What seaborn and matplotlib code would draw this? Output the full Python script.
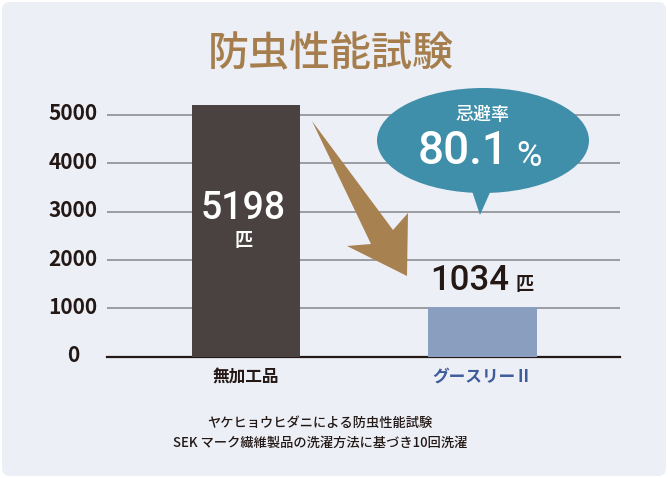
import matplotlib
matplotlib.use("Agg")
import matplotlib.pyplot as plt
import matplotlib.transforms as mtransforms
from matplotlib.patches import FancyBboxPatch, Ellipse, Polygon
import pandas as pd
import seaborn as sns

# データ
categories = ["無加工品", "グースリーⅡ"]
counts = [5198, 1034]
unit = "匹"
yticks = [0, 1000, 2000, 3000, 4000, 5000]
title = "防虫性能試験"
rate_label = "忌避率"
rate_value = "80.1"
notes = ["ヤケヒョウヒダニによる防虫性能試験",
         "SEK マーク繊維製品の洗濯方法に基づき10回洗濯"]

sns.set_theme(style="white")
plt.rcParams['font.family'] = ['Noto Sans CJK JP', 'DejaVu Sans']
num_font = ["Roboto", "Liberation Sans", "DejaVu Sans"]

W, H = 668, 478
fig = plt.figure(figsize=(W / 100, H / 100), dpi=100)
fig.patch.set_facecolor("white")

# 背景（角丸）
bg = FancyBboxPatch((2, 2), W - 4, H - 4, boxstyle="round,pad=0,rounding_size=8",
                    transform=None, facecolor="#ECEFF5", edgecolor="none", zorder=-10)
fig.patches.append(bg)

# メイングラフ
left, right = 107, 620
y0_px, px_per_k = 356.7, 48.34
ymax = 5500
top_px = y0_px - ymax / 1000 * px_per_k
ax = fig.add_axes([left / W, 1 - y0_px / H, (right - left) / W, (y0_px - top_px) / H])
ax.set_facecolor("none")

df = pd.DataFrame({"cat": categories, "n": counts})
sns.barplot(data=df, x="cat", y="n", hue="cat", palette=["#4A4141", "#8A9EC0"],
            width=0.46, legend=False, saturation=1, linewidth=0, ax=ax, zorder=3)

ax.set_xlim(-0.588, 1.581)
ax.set_ylim(0, ymax)
ax.set_yticks(yticks)
ax.yaxis.grid(True, color="#8E8E94", lw=1.2, zorder=0)
ax.set_axisbelow(True)
for s in ["top", "right", "left"]:
    ax.spines[s].set_visible(False)
ax.spines["bottom"].set_color("#231815")
ax.spines["bottom"].set_linewidth(1.6)
ax.set_xlabel("")
ax.set_ylabel("")
ax.tick_params(axis="both", length=0)
ax.tick_params(axis="y", pad=24.5)
ax.tick_params(axis="x", pad=8)
offset = mtransforms.ScaledTranslation(0, 3 / 100, fig.dpi_scale_trans)
for lbl in ax.get_yticklabels():
    lbl.set_fontsize(15)
    lbl.set_fontweight("bold")
    lbl.set_color("#231815")
    lbl.set_ha("center")
    lbl.set_transform(lbl.get_transform() + offset)
for lbl, c in zip(ax.get_xticklabels(), ["#231815", "#3E5B9B"]):
    lbl.set_fontsize(12)
    lbl.set_fontweight("bold")
    lbl.set_color(c)

# 棒ラベル
ax.annotate(f"{counts[0]}", xy=(0, counts[0]), xytext=(-3, -103), textcoords="offset pixels",
            ha="center", va="center", fontsize=27, color="white", fontweight="medium",
            family=num_font, zorder=5)
ax.annotate(unit, xy=(0, counts[0]), xytext=(-3, -135), textcoords="offset pixels",
            ha="center", va="center", fontsize=13, color="white", fontweight="bold", zorder=5)
ax.annotate(f"{counts[1]}", xy=(1, counts[1]), xytext=(-13, 26), textcoords="offset pixels",
            ha="center", va="center", fontsize=25, color="#231815", fontweight="medium",
            family=num_font, zorder=5)
ax.annotate(unit, xy=(1, counts[1]), xytext=(42, 22), textcoords="offset pixels",
            ha="center", va="center", fontsize=13, color="#231815", fontweight="bold", zorder=5)

# 装飾レイヤー（ピクセル座標）
ov = fig.add_axes([0, 0, 1, 1], zorder=2)
ov.set_xlim(0, W)
ov.set_ylim(H, 0)
ov.axis("off")

arrow = Polygon([(312, 121), (393, 230), (408, 213), (407, 276), (347, 246), (371, 244)],
                closed=True, facecolor="#A88150", edgecolor="none")
ov.add_patch(arrow)

bubble_c = "#3F8FAA"
ov.add_patch(Ellipse((483, 140.5), 212, 105, facecolor=bubble_c, edgecolor="none"))
ov.add_patch(Polygon([(471, 188), (492, 188), (480, 215)], closed=True,
                     facecolor=bubble_c, edgecolor="none"))
ov.text(483, 115, rate_label, ha="center", va="center", fontsize=13, color="white",
        fontweight="medium")
ov.text(463.5, 151, rate_value, ha="center", va="center", fontsize=33, color="white",
        fontweight="medium", family=num_font)
ov.text(529, 156, "%", ha="center", va="center", fontsize=25, color="white",
        family=num_font)

# タイトル・注記
fig.text(331 / W, 1 - 55 / H, title, ha="center", va="center", fontsize=29.5,
         color="#A67E4E", fontweight="medium")
fig.text(320 / W, 1 - 423 / H, notes[0], ha="center", va="center", fontsize=9.5,
         color="#231815", fontweight="medium")
fig.text(320 / W, 1 - 443 / H, notes[1], ha="center", va="center", fontsize=9.5,
         color="#231815", fontweight="medium")

fig.savefig("out.png", dpi=100)
